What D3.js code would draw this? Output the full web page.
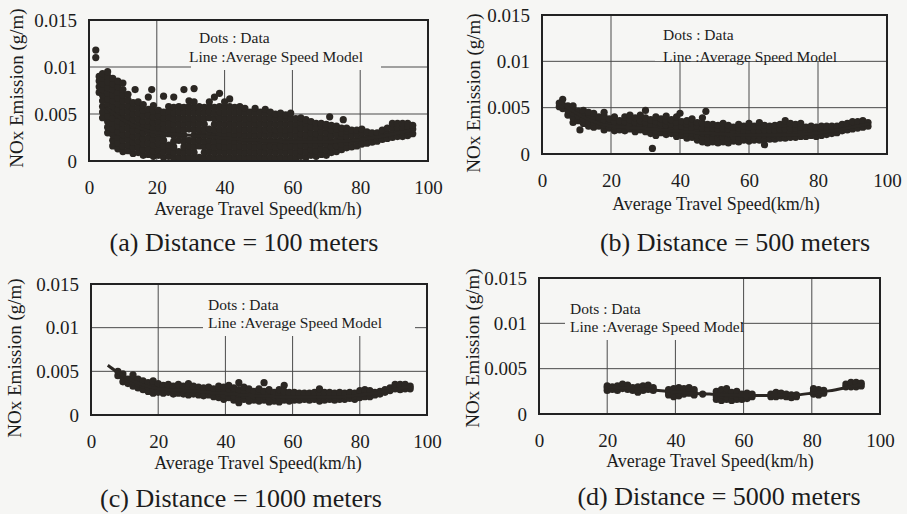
<!DOCTYPE html>
<html>
<head>
<meta charset="utf-8">
<script src="https://cdn.jsdelivr.net/npm/d3@7"></script>
<style>
  body { margin: 0; background: #f6f6f4; }
  svg, svg text { font-family: "Liberation Serif", "Tinos", "DejaVu Serif", "Noto Serif", serif !important; }
  text { fill: #1c1c1c; }
</style>
</head>
<body>
<div id="chart"></div>
<script>
////////////////////////////////////////////////////////////////
// Data : NOx, in mg/m (x 0.001 g/m),
// grouped as [speed, [nox, nox, ...]]

// (a) 100 m
const dotsA = [
  [2, [11.0, 11.8]],
  [3, [7.3, 7.9, 8.5, 9.0]],
  [4, [4.6, 5.2, 5.8, 6.4, 7.0, 7.6, 8.2, 8.8, 9.3]],
  [5.5, [3.0, 3.6, 4.2, 4.8, 5.4, 6.0, 6.6, 7.2, 7.8, 8.4, 9.0, 9.5]],
  [7, [1.6, 2.2, 2.8, 3.4, 4.0, 4.6, 5.2, 5.8, 6.4, 7.0, 7.6, 8.2, 8.8]],
  [8.5, [1.3, 1.9, 2.5, 3.1, 3.7, 4.3, 4.9, 5.5, 6.1, 6.7, 7.3, 7.9, 8.5]],
  [10, [1.0, 1.6, 2.2, 2.8, 3.4, 4.0, 4.6, 5.2, 5.8, 6.4, 7.0, 7.6, 8.3]],
  [11.5, [1.1, 1.7, 2.3, 2.9, 3.5, 4.1, 4.7, 5.3, 5.9, 6.5, 7.1]],
  [13, [0.8, 1.4, 2.0, 2.6, 3.2, 3.8, 4.4, 5.0, 5.6, 6.2]],
  [13.6, [7.6]],
  [14.5, [0.9, 1.5, 2.1, 2.7, 3.3, 3.9, 4.5, 5.1, 5.7, 6.3]],
  [16, [0.6, 1.2, 1.8, 2.4, 3.0, 3.6, 4.2, 4.8, 5.4, 6.0]],
  [17.5, [0.7, 1.3, 1.9, 2.5, 3.1, 3.7, 4.3, 4.9, 5.5, 6.8]],
  [18.5, [7.6]],
  [19, [0.5, 1.1, 1.7, 2.3, 2.9, 3.5, 4.1, 4.7, 5.3, 5.9]],
  [20.5, [0.6, 1.2, 1.8, 2.4, 3.0, 3.6, 4.2, 4.8, 5.4]],
  [22, [0.4, 1.0, 1.6, 2.2, 2.8, 3.4, 4.0, 4.6, 5.2, 6.9]],
  [23.5, [0.5, 1.1, 1.7, 2.9, 3.5, 4.1, 4.7, 5.3, 5.8]],
  [25, [0.3, 0.9, 1.5, 2.1, 2.7, 3.3, 3.9, 4.5, 5.1, 5.7, 6.8]],
  [26.5, [0.4, 1.0, 2.2, 2.8, 3.4, 4.0, 4.6, 5.2, 5.8]],
  [28, [0.3, 0.9, 1.5, 2.1, 2.7, 3.3, 3.9, 4.5, 5.1, 5.7, 7.6]],
  [29.5, [0.4, 1.0, 1.6, 2.2, 3.4, 4.0, 4.6, 5.2, 5.8, 6.4]],
  [31, [0.3, 0.9, 1.5, 2.1, 2.7, 3.3, 3.9, 4.5, 5.1, 5.7, 6.3, 7.7]],
  [32.5, [0.4, 1.6, 2.2, 2.8, 3.4, 4.0, 4.6, 5.2, 5.8]],
  [34, [0.3, 0.9, 1.5, 2.1, 2.7, 3.3, 3.9, 4.5, 5.1, 5.7]],
  [35.5, [0.4, 1.0, 1.6, 2.2, 2.8, 3.4, 4.6, 5.2, 5.8, 6.3]],
  [37, [0.3, 0.9, 1.5, 2.1, 2.7, 3.3, 3.9, 4.5, 5.1, 5.7, 6.8]],
  [38.5, [0.4, 1.0, 1.6, 2.2, 2.8, 3.4, 4.0, 4.6, 5.2, 5.8, 7.2]],
  [40, [0.3, 0.9, 1.5, 2.1, 2.7, 3.3, 3.9, 4.5, 5.1, 5.7, 6.3]],
  [41.5, [0.4, 1.0, 1.6, 2.2, 2.8, 3.4, 4.0, 4.6, 5.2, 5.8, 6.6]],
  [43, [0.3, 0.9, 1.5, 2.1, 2.7, 3.3, 3.9, 4.5, 5.1, 5.7]],
  [44.5, [0.4, 1.0, 1.6, 2.2, 2.8, 3.4, 4.0, 4.6, 5.2, 5.8]],
  [46, [0.3, 0.9, 1.5, 2.1, 2.7, 3.3, 3.9, 4.5, 5.1, 5.6]],
  [47.5, [0.4, 1.0, 1.6, 2.2, 2.8, 3.4, 4.0, 4.6, 5.2]],
  [49, [0.3, 0.9, 1.5, 2.1, 2.7, 3.3, 3.9, 4.5, 5.1, 5.6]],
  [50.5, [0.4, 1.0, 1.6, 2.2, 2.8, 3.4, 4.0, 4.6, 5.2]],
  [52, [0.3, 0.9, 1.5, 2.1, 2.7, 3.3, 3.9, 4.5, 5.1, 5.5]],
  [53.5, [0.4, 1.0, 1.6, 2.2, 2.8, 3.4, 4.0, 4.6, 5.2]],
  [55, [0.3, 0.9, 1.5, 2.1, 2.7, 3.3, 3.9, 4.5, 5.0]],
  [56.5, [0.4, 1.0, 1.6, 2.2, 2.8, 3.4, 4.0, 4.6, 5.1]],
  [58, [0.3, 0.9, 1.5, 2.1, 2.7, 3.3, 3.9, 4.5, 4.9]],
  [59.5, [0.4, 1.0, 1.6, 2.2, 2.8, 3.4, 4.0, 4.6, 5.1]],
  [61, [0.3, 0.9, 1.5, 2.1, 2.7, 3.3, 3.9, 4.5]],
  [62.5, [0.5, 1.1, 1.7, 2.3, 2.9, 3.5, 4.1, 4.6]],
  [64, [0.4, 1.0, 1.6, 2.2, 2.8, 3.4, 4.0, 4.4]],
  [65.5, [0.6, 1.2, 1.8, 2.4, 3.0, 3.6, 4.2]],
  [67, [0.5, 1.1, 1.7, 2.3, 2.9, 3.5, 4.0]],
  [68.5, [0.7, 1.3, 1.9, 2.5, 3.1, 3.7, 4.0]],
  [70, [0.6, 1.2, 1.8, 2.4, 3.0, 3.6, 3.9]],
  [71, [4.7]],
  [71.5, [0.9, 1.5, 2.1, 2.7, 3.3, 3.8]],
  [73, [1.0, 1.6, 2.2, 2.8, 3.4, 3.7]],
  [74.5, [1.2, 1.8, 2.4, 3.0, 3.5]],
  [75, [4.4]],
  [76, [1.4, 2.0, 2.6, 3.2, 3.5]],
  [77.5, [1.5, 2.1, 2.7, 3.3]],
  [79, [1.6, 2.2, 2.8, 3.3]],
  [80.5, [1.8, 2.4, 3.0, 3.4]],
  [82, [1.9, 2.5, 3.1]],
  [83.5, [2.0, 2.6, 3.0]],
  [85, [2.1, 2.6, 3.0]],
  [86.5, [2.3, 2.8, 3.3]],
  [88, [2.4, 2.9, 3.5]],
  [89.5, [2.5, 3.0, 3.6, 4.0]],
  [91, [2.6, 3.1, 3.6, 4.0]],
  [92.5, [2.6, 3.1, 3.6, 4.0]],
  [94, [2.7, 3.2, 3.7, 4.0]],
  [95.5, [2.9, 3.4, 3.8]]
];

// (b) 500 m
const dotsB = [
  [5, [5.1, 5.5]],
  [6, [4.9, 5.3, 5.9]],
  [7.5, [4.2, 4.7, 5.2]],
  [9, [3.4, 3.9, 4.4, 4.9, 5.2]],
  [10.5, [3.6, 4.1, 4.6]],
  [11, [2.6]],
  [12, [3.3, 3.8, 4.3, 4.7]],
  [13.5, [3.0, 3.5, 4.0, 4.5]],
  [15, [2.9, 3.4, 3.9, 4.4]],
  [16.5, [3.0, 3.5, 4.0]],
  [18, [2.6, 3.1, 3.6, 4.1, 4.5]],
  [19.5, [2.8, 3.3, 3.8]],
  [21, [2.5, 3.0, 3.5, 4.0]],
  [22.5, [2.6, 3.1, 3.6]],
  [24, [2.5, 3.0, 3.5, 4.0]],
  [25.5, [2.7, 3.2, 3.7, 4.2]],
  [27, [2.4, 2.9, 3.4, 3.9]],
  [28.5, [2.6, 3.1, 3.6, 4.2]],
  [30, [2.4, 2.9, 3.4, 3.9, 4.7]],
  [31.5, [2.2, 2.7, 3.2, 3.7]],
  [32, [0.6]],
  [33, [2.0, 2.5, 3.0, 3.5, 4.0]],
  [34.5, [2.3, 2.8, 3.3, 3.8]],
  [36, [2.1, 2.6, 3.1, 3.6, 4.1]],
  [37.5, [2.2, 2.7, 3.2, 3.7]],
  [39, [1.9, 2.4, 2.9, 3.4, 4.0]],
  [40, [4.4]],
  [40.5, [2.0, 2.5, 3.0, 3.5]],
  [42, [1.7, 2.2, 2.7, 3.2, 3.6]],
  [43.5, [1.8, 2.3, 2.8, 3.3, 3.8]],
  [45, [1.5, 2.0, 2.5, 3.0, 3.4]],
  [46.5, [1.3, 1.8, 2.3, 2.8, 3.3, 3.9]],
  [47.5, [4.6]],
  [48, [1.2, 1.7, 2.2, 2.7, 3.2]],
  [49.5, [1.3, 1.8, 2.3, 2.8, 3.2]],
  [51, [1.2, 1.7, 2.2, 2.7, 3.1]],
  [52.5, [1.3, 1.8, 2.3, 2.8, 3.3]],
  [54, [1.2, 1.7, 2.2, 2.7, 3.1]],
  [55.5, [1.4, 1.9, 2.4, 2.9]],
  [57, [1.3, 1.8, 2.3, 2.8, 3.2]],
  [58.5, [1.5, 2.0, 2.5, 3.0]],
  [60, [1.4, 1.9, 2.4, 2.9, 3.3]],
  [61.5, [1.5, 2.0, 2.5, 3.0]],
  [63, [1.5, 2.0, 2.5, 3.0, 3.4]],
  [64.5, [1.0, 1.6, 2.1, 2.6, 3.1]],
  [66, [1.6, 2.1, 2.6, 3.0]],
  [67.5, [1.6, 2.1, 2.6, 3.1]],
  [69, [1.7, 2.2, 2.7, 3.2]],
  [70.5, [1.7, 2.2, 2.7, 3.2, 3.6]],
  [72, [1.8, 2.3, 2.8, 3.3]],
  [73.5, [1.8, 2.3, 2.8, 3.2]],
  [75, [1.9, 2.4, 2.9, 3.3]],
  [76.5, [1.9, 2.4, 2.9]],
  [78, [2.0, 2.5, 3.0]],
  [79.5, [1.9, 2.4, 2.9]],
  [81, [2.0, 2.5, 3.0]],
  [82.5, [2.1, 2.6, 3.0]],
  [84, [2.2, 2.6, 3.0]],
  [85.5, [2.3, 2.7, 3.0]],
  [87, [2.5, 2.9, 3.2]],
  [88.5, [2.6, 3.0, 3.3]],
  [90, [2.7, 3.1, 3.5]],
  [91.5, [2.8, 3.2, 3.5]],
  [93, [2.9, 3.3, 3.6]],
  [94.5, [3.0, 3.4]]
];

// (c) 1000 m
const dotsC = [
  [8, [4.5, 5.0]],
  [9.5, [3.8, 4.3, 4.7]],
  [11, [3.6, 4.1]],
  [12.5, [3.3, 3.8, 4.3, 4.6]],
  [14, [3.1, 3.6, 4.1]],
  [15.5, [2.9, 3.4, 3.9]],
  [17, [2.7, 3.2, 3.7]],
  [18.5, [2.5, 3.0, 3.5, 3.9]],
  [20, [2.6, 3.1, 3.6]],
  [21.5, [2.5, 3.0, 3.4]],
  [23, [2.6, 3.1, 3.5]],
  [24.5, [2.4, 2.9, 3.3]],
  [26, [2.5, 3.0, 3.5]],
  [27.5, [2.4, 2.9, 3.3]],
  [29, [2.3, 2.8, 3.2, 3.6]],
  [30.5, [2.4, 2.9, 3.3]],
  [32, [2.3, 2.8, 3.2]],
  [33.5, [2.2, 2.7, 3.1]],
  [35, [2.3, 2.8, 3.2]],
  [36.5, [2.1, 2.6, 3.0]],
  [38, [2.0, 2.5, 3.0, 3.3]],
  [39.5, [1.8, 2.3, 2.8, 3.2]],
  [41, [2.0, 2.5, 3.0, 3.4]],
  [42.5, [1.7, 2.2, 2.7, 3.1]],
  [44, [1.4, 1.9, 2.4, 2.9, 3.7]],
  [45.5, [1.8, 2.3, 2.8, 3.2]],
  [47, [1.6, 2.1, 2.6, 3.0]],
  [48.5, [1.7, 2.2, 2.7]],
  [50, [1.6, 2.1, 2.6, 3.0]],
  [51.5, [1.7, 2.2, 2.7, 3.7]],
  [53, [1.5, 2.0, 2.5, 2.9]],
  [54.5, [1.6, 2.1, 2.6]],
  [56, [1.5, 2.0, 2.5, 2.9]],
  [57.5, [1.7, 2.2, 2.7, 3.4]],
  [59, [1.6, 2.1, 2.6]],
  [60.5, [1.7, 2.2, 2.6]],
  [62, [1.7, 2.2, 2.5]],
  [63.5, [1.8, 2.2, 2.5]],
  [65, [1.7, 2.1, 2.5]],
  [66.5, [1.8, 2.2, 2.6]],
  [68, [1.6, 2.1, 2.6, 3.0]],
  [69.5, [1.7, 2.2, 2.6]],
  [71, [1.8, 2.2, 2.6]],
  [72.5, [1.7, 2.1, 2.5]],
  [74, [1.8, 2.2, 2.6]],
  [75.5, [1.8, 2.2, 2.5]],
  [77, [1.9, 2.3, 2.6]],
  [78.5, [1.8, 2.2, 2.5]],
  [80, [2.0, 2.4, 2.8]],
  [81.5, [2.1, 2.5, 2.9]],
  [83, [2.1, 2.5, 2.8]],
  [84.5, [2.3, 2.6]],
  [86, [2.4, 2.7]],
  [87.5, [2.6, 2.9]],
  [89, [2.8, 3.1]],
  [90.5, [3.0, 3.3, 3.5]],
  [92, [2.9, 3.2, 3.5]],
  [93.5, [3.0, 3.3, 3.5]],
  [95, [3.0, 3.3]]
];

// (d) 5000 m
const dotsD = [
  [20, [2.6, 2.9, 3.1]],
  [21.5, [2.7, 3.0]],
  [23, [2.6, 2.9, 3.1]],
  [24.5, [2.8, 3.1, 3.3]],
  [26, [2.7, 3.0, 3.2]],
  [27.5, [2.6, 2.9]],
  [29, [2.4, 2.7, 3.0]],
  [30.5, [2.6, 2.9, 3.1]],
  [32, [2.7, 3.0, 3.2]],
  [33.5, [2.6, 2.9]],
  [38, [2.1, 2.4, 2.7]],
  [39.5, [1.9, 2.2, 2.5, 2.8]],
  [41, [2.0, 2.3, 2.6, 2.9]],
  [42.5, [2.2, 2.5, 2.8]],
  [44, [2.3, 2.6, 2.9]],
  [45.5, [2.1, 2.4, 2.7]],
  [48, [2.2]],
  [52, [1.6, 1.9, 2.2, 2.5]],
  [53.5, [1.5, 1.8, 2.1, 2.4, 2.7]],
  [55, [1.6, 1.9, 2.2, 2.5, 2.8]],
  [56.5, [1.5, 1.8, 2.1, 2.4]],
  [58, [1.6, 1.9, 2.2, 2.5]],
  [59.5, [1.6, 1.9, 2.2]],
  [61, [1.7, 2.0, 2.3]],
  [62.5, [1.9, 2.2]],
  [68, [1.9, 2.2]],
  [69.5, [1.9, 2.2, 2.4]],
  [71, [2.0, 2.3]],
  [72.5, [1.9, 2.2]],
  [74, [1.8, 2.1]],
  [75.5, [1.9, 2.1]],
  [80.5, [2.2, 2.5, 2.8]],
  [82, [2.1, 2.4, 2.7]],
  [83.5, [2.3, 2.6]],
  [90, [3.0, 3.3]],
  [91.5, [3.0, 3.3, 3.5]],
  [93, [3.0, 3.3, 3.5]],
  [94.5, [3.1, 3.4]]
];

// average speed model curve (mg/m)
const modelSpeed = [5, 7.5, 10, 12.5, 15, 20, 25, 30, 35, 40, 45, 50, 55, 60, 65, 70, 75, 80, 85, 90, 95];
const modelNox = [5.7, 5.0, 4.4, 3.9, 3.5, 3.0, 2.85, 2.75, 2.6, 2.45, 2.3, 2.2, 2.1, 2.05, 2.05, 2.05, 2.1, 2.3, 2.55, 2.9, 3.3];
const modelFrom = [5, 5, 5, 20];

// axes and texts
const xTicks = [0, 20, 40, 60, 80, 100];
const yTicks = [0, 0.005, 0.01, 0.015];
const yTickLabels = ["0", "0.005", "0.01", "0.015"];
const xTitle = "Average Travel Speed(km/h)";
const yTitles = ["NOx  Emission (g/m)", "NOx Emission (g/m)", "NOx Emission (g/m)", "NOx Emission (g/m)"];
const legendLines = ["Dots : Data", "Line :Average Speed Model"];
const captions = ["(a) Distance = 100 meters", "(b) Distance = 500 meters",
                  "(c) Distance = 1000 meters", "(d) Distance = 5000 meters"];

////////////////////////////////////////////////////////////////
// Layout of the four panels (pixels)

const layout = [
  { box: [89, 428, 20, 161], yTitle: [16, 88], title: [258, 215], caption: [244, 251],
    legend: [199, 189, 43, 62], legendBg: [191, 21, 190, 49] },
  { box: [542, 887, 15, 154], yTitle: [473, 93], title: [716, 210], caption: [735, 251],
    legend: [663, 663, 40, 62], legendBg: [655, 16, 195, 45] },
  { box: [91, 427, 284, 415], yTitle: [14, 358], title: [258, 469], caption: [241, 507],
    legend: [208, 208, 310, 328], legendBg: [203, 285, 212, 51] },
  { box: [539, 880, 278, 414], yTitle: [472, 348], title: [710, 467], caption: [719, 505],
    legend: [570, 570, 314, 332], legendBg: [565, 279, 176, 61] }
];

const ink = "#2b2723";
const font = "'Liberation Serif', Tinos, 'DejaVu Serif', 'Noto Serif', serif";
const allDots = [dotsA, dotsB, dotsC, dotsD];

let svg = d3.select("#chart").append("svg")
  .attr("width", 907)
  .attr("height", 514)
  .attr("font-family", font);

svg.append("rect")
  .attr("width", 907)
  .attr("height", 514)
  .attr("fill", "#f6f6f4");

function drawPanel(i) {
  let L = layout[i];
  let [x0, x1, y0, y1] = L.box;

  let x = d3.scaleLinear().domain([0, 100]).range([x0, x1]);
  let y = d3.scaleLinear().domain([0, 0.015]).range([y1, y0]);

  let g = svg.append("g");

  // gridlines
  g.selectAll(".vgrid")
    .data(xTicks.slice(1, -1))
    .enter()
    .append("line")
    .attr("x1", d => x(d)).attr("x2", d => x(d))
    .attr("y1", y0).attr("y2", y1)
    .attr("stroke", "#4a4a4a")
    .attr("stroke-width", 1);

  g.selectAll(".hgrid")
    .data(yTicks.slice(1, -1))
    .enter()
    .append("line")
    .attr("x1", x0).attr("x2", x1)
    .attr("y1", d => y(d)).attr("y2", d => y(d))
    .attr("stroke", "#4a4a4a")
    .attr("stroke-width", 1);

  // legend (blank box hides the grid)
  g.append("rect")
    .attr("x", L.legendBg[0]).attr("y", L.legendBg[1])
    .attr("width", L.legendBg[2]).attr("height", L.legendBg[3])
    .attr("fill", "#f6f6f4");

  g.append("text")
    .attr("x", L.legend[0]).attr("y", L.legend[2])
    .attr("font-size", 15.5)
    .text(legendLines[0]);
  g.append("text")
    .attr("x", L.legend[1]).attr("y", L.legend[3])
    .attr("font-size", 15.5)
    .text(legendLines[1]);

  // axes
  let xAxis = g.append("g")
    .attr("transform", `translate(0,${y1})`)
    .call(d3.axisBottom(x).tickValues(xTicks).tickSize(0).tickPadding(20));
  let yAxis = g.append("g")
    .attr("transform", `translate(${x0},0)`)
    .call(d3.axisLeft(y).tickValues(yTicks).tickSize(0).tickPadding(12)
      .tickFormat((d, k) => yTickLabels[k]));

  [xAxis, yAxis].forEach(a => {
    a.select(".domain").remove();
    a.attr("font-family", font).attr("font-size", null);
    a.selectAll("text").attr("font-size", 19).attr("fill", "#1c1c1c");
  });

  // data dots
  let pts = [];
  allDots[i].forEach(col => col[1].forEach(v => pts.push([col[0], v / 1000])));

  g.selectAll("circle")
    .data(pts)
    .enter()
    .append("circle")
    .attr("cx", d => x(d[0]))
    .attr("cy", d => y(d[1]))
    .attr("r", 3.6)
    .attr("fill", ink);

  // model line
  let model = modelSpeed.map((s, k) => [s, modelNox[k] / 1000])
    .filter(d => d[0] >= modelFrom[i]);
  g.append("path")
    .attr("d", d3.line().x(d => x(d[0])).y(d => y(d[1])).curve(d3.curveMonotoneX)(model))
    .attr("fill", "none")
    .attr("stroke", ink)
    .attr("stroke-width", 3);

  // frame
  g.append("rect")
    .attr("x", x0).attr("y", y0)
    .attr("width", x1 - x0).attr("height", y1 - y0)
    .attr("fill", "none")
    .attr("stroke", "#222")
    .attr("stroke-width", 2);

  // titles
  g.append("text")
    .attr("transform", `translate(${L.yTitle[0]},${L.yTitle[1]}) rotate(-90)`)
    .attr("text-anchor", "middle")
    .attr("dy", "0.35em")
    .attr("font-size", 19)
    .text(yTitles[i]);

  g.append("text")
    .attr("x", L.title[0]).attr("y", L.title[1])
    .attr("text-anchor", "middle")
    .attr("font-size", 18)
    .text(xTitle);

  g.append("text")
    .attr("x", L.caption[0]).attr("y", L.caption[1])
    .attr("text-anchor", "middle")
    .attr("font-size", 26)
    .text(captions[i]);
}

d3.range(4).forEach(drawPanel);
</script>
</body>
</html>
